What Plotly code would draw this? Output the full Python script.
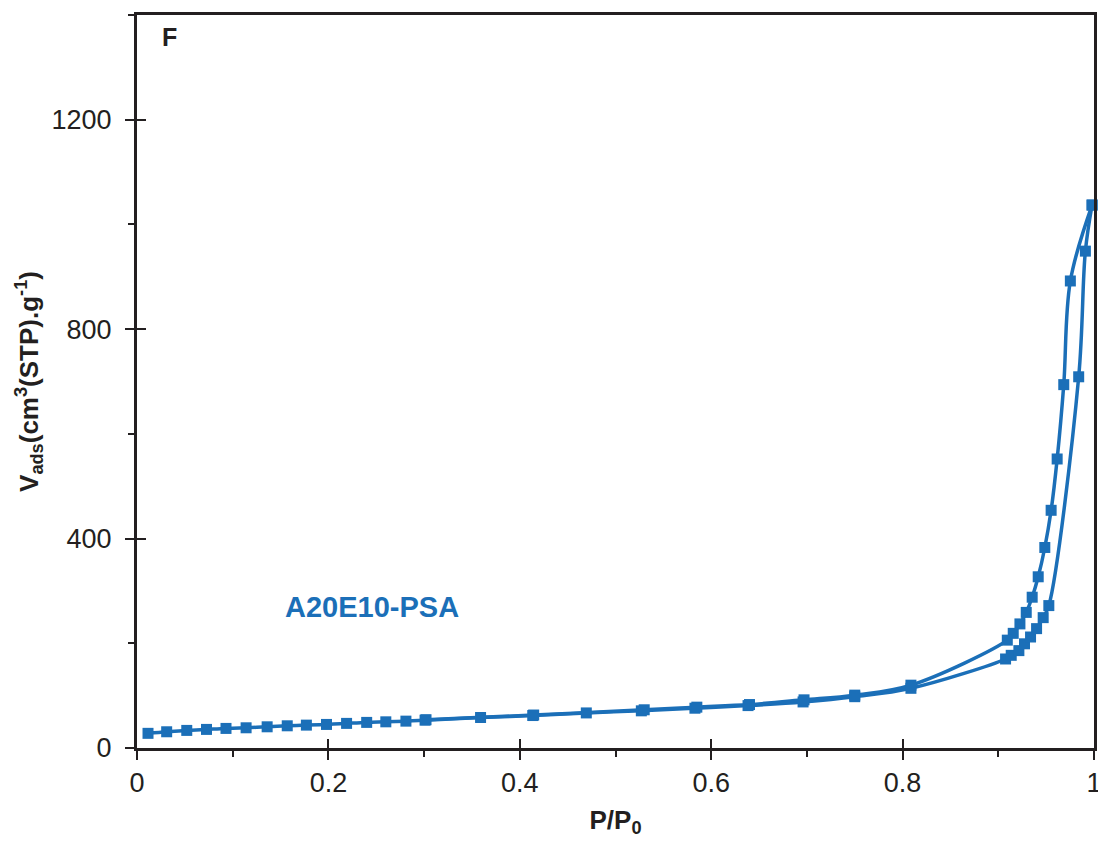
import plotly.graph_objects as go

# Adsorption branch
ads_x = [0.0115, 0.031, 0.052, 0.0726, 0.093, 0.114, 0.136, 0.157, 0.177, 0.198,
         0.219, 0.240, 0.260, 0.281, 0.301, 0.359, 0.4135, 0.4695, 0.527, 0.583,
         0.6385, 0.696, 0.750, 0.8087, 0.9076, 0.9135, 0.9215, 0.9274, 0.9337,
         0.940, 0.9469, 0.9528, 0.984, 0.991, 0.998]
ads_y = [28, 31, 33.6, 35.5, 37.4, 38.6, 40.5, 42.4, 43.7, 45,
         47, 48.9, 50, 51.3, 53.2, 58.3, 62, 67, 71, 76,
         81, 88, 98, 114, 170, 177, 186, 199, 212,
         228, 249, 272, 709, 949, 1037]

# Desorption branch
des_x = [0.998, 0.9753, 0.9684, 0.9615, 0.9552, 0.9486, 0.9417, 0.9354, 0.9292,
         0.9226, 0.9156, 0.9094, 0.8087, 0.750, 0.697, 0.640, 0.585, 0.530,
         0.4145, 0.302]
des_y = [1037, 892, 694, 552, 454, 383, 327, 288, 259,
         237, 219, 206, 120, 101, 92, 83, 78, 73,
         63, 54]

blue = "#1B6FB8"
dark = "#231F20"

fig = go.Figure()
for xs, ys in [(ads_x, ads_y), (des_x, des_y)]:
    fig.add_trace(go.Scatter(
        x=xs, y=ys, mode="lines+markers",
        line=dict(color=blue, width=3.5, shape="spline", smoothing=1.0),
        marker=dict(symbol="square", size=11, color=blue),
        showlegend=False, cliponaxis=False,
    ))

# invisible trace so the overlay axes (inner halves of the crossing ticks) are drawn
fig.add_trace(go.Scatter(x=[None], y=[None], xaxis="x2", yaxis="y2", showlegend=False))

font_main = "Liberation Sans, Arial, sans-serif"

fig.update_layout(
    width=1098, height=830,
    margin=dict(l=129, r=9, t=4, b=90),
    paper_bgcolor="white", plot_bgcolor="white",
    font=dict(family=font_main, size=27, color=dark),
    xaxis=dict(
        range=[0, 1], dtick=0.2, tick0=0, showgrid=False, zeroline=False,
        showline=True, linecolor=dark, linewidth=3, mirror=True,
        ticks="outside", ticklen=9, tickwidth=1.5, tickcolor=dark,
        tickformat="~g", tickfont=dict(size=27),
        minor=dict(dtick=0.1, ticks="outside", ticklen=6, tickwidth=1.5, tickcolor=dark),
        title=dict(text="<b>P/P<sub>0</sub></b>", font=dict(size=26), standoff=14),
    ),
    yaxis=dict(
        range=[0, 1400], dtick=400, tick0=0, showgrid=False, zeroline=False,
        showline=True, linecolor=dark, linewidth=3, mirror=True,
        ticks="outside", ticklen=9, tickwidth=1.5, tickcolor=dark,
        tickfont=dict(size=27), ticklabelstandoff=8,
        minor=dict(dtick=200, ticks="outside", ticklen=6, tickwidth=1.5, tickcolor=dark),
        title=dict(text="<b>V<sub>ads</sub>(cm<sup>3</sup>(STP).g<sup>-1</sup>)</b>",
                   font=dict(size=26), standoff=6),
    ),
    xaxis2=dict(
        overlaying="x", anchor="y", range=[0, 1], dtick=0.2, tick0=0,
        showgrid=False, zeroline=False, showline=False, showticklabels=False,
        ticks="inside", ticklen=9, tickwidth=1.5, tickcolor=dark, side="bottom",
    ),
    yaxis2=dict(
        overlaying="y", anchor="x", range=[0, 1400], dtick=400, tick0=0,
        showgrid=False, zeroline=False, showline=False, showticklabels=False,
        ticks="inside", ticklen=9, tickwidth=1.5, tickcolor=dark, side="left",
    ),
    annotations=[
        dict(text="<b>A20E10-PSA</b>", x=0.246, y=270, xref="x", yref="y",
             showarrow=False, font=dict(size=29, color=blue)),
        dict(text="<b>F</b>", x=0.034, y=0.970, xref="paper", yref="paper",
             xanchor="center", yanchor="middle",
             showarrow=False, font=dict(size=25, color=dark)),
    ],
)

fig.write_html("out.html")
